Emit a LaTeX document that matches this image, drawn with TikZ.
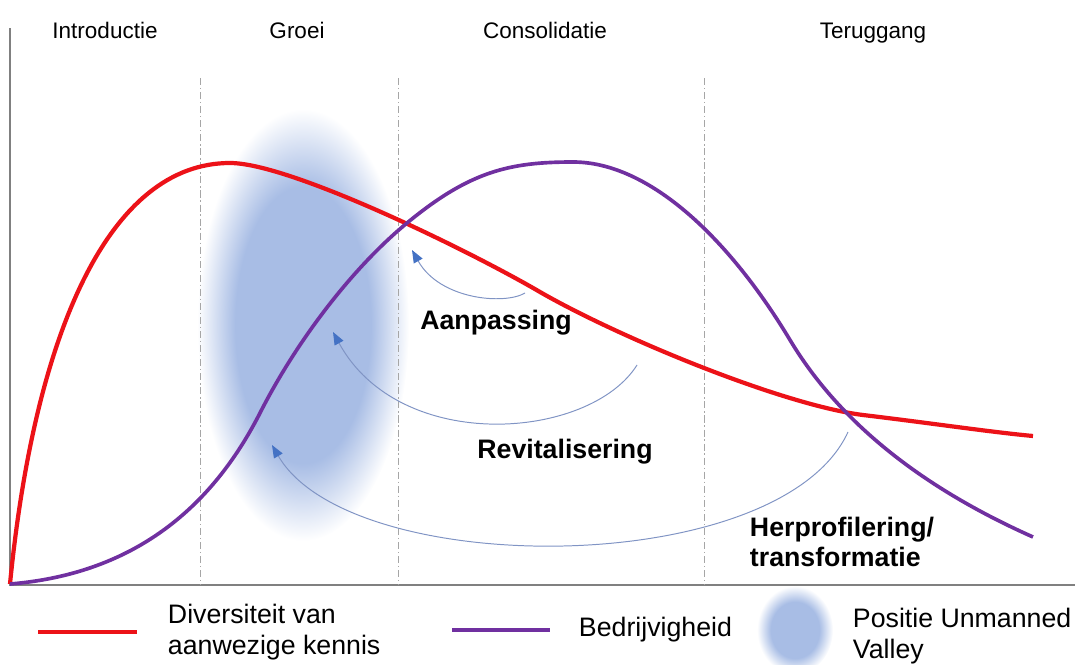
\documentclass[tikz,border=0pt]{standalone}
\usepackage{fontspec}
\setmainfont{Liberation Sans}
\usetikzlibrary{positioning}
\usetikzlibrary{arrows.meta}
\definecolor{kennisred}{RGB}{236,18,24}
\definecolor{bedrijfpurple}{RGB}{112,48,160}
\definecolor{valleyblue}{RGB}{168,189,229}
\definecolor{flowblue}{RGB}{128,148,196}
\definecolor{tipblue}{RGB}{68,114,196}
\pgfdeclareradialshading{valley}{\pgfpoint{0bp}{0bp}}{color(0bp)=(valleyblue); color(16bp)=(valleyblue); color(25bp)=(white); color(50bp)=(white)}

\begin{document}
\begin{tikzpicture}[x=0.025cm, y=-0.025cm,
    phase/.style={font=\fontsize{16}{18}\selectfont, anchor=base},
    stage/.style={font=\fontsize{19}{21}\selectfont\bfseries},
    legend/.style={font=\fontsize{19}{22}\selectfont, align=left},
    flow/.style={draw=flowblue, line width=0.7pt, -{Triangle[length=9pt, width=7pt, color=tipblue]}},
    divider/.style={gray!70, line width=0.5pt, dash pattern=on 5pt off 2pt on 1pt off 2pt}]
    \useasboundingbox (0,0) rectangle (1075,664);

    % unmanned valley
    \shade[shading=valley] (303,325) ellipse [x radius=2.65cm, y radius=5.4cm];

    % axes and phases
    \coordinate (top) at (10,28);
    \coordinate (origin) at (10,585);
    \coordinate (right) at (1075,585);
    \draw[gray, line width=1.2pt] (top) -- (origin) -- (right);
    \foreach \x in {200,398,704}
        \draw[divider] (\x,78) -- (\x,585);
    \node[phase] (intro) at (105,38) {Introductie};
    \node[phase] (groei) at (297,38) {Groei};
    \node[phase] (consol) at (545,38) {Consolidatie};
    \node[phase] (terug) at (873,38) {Teruggang};

    % curves
    \draw[kennisred, line width=3pt] (10,584) .. controls (35,330) and (110,163) .. (230,163)
        .. controls (290,163) and (470,251) .. (540,292)
        .. controls (620,338) and (783,405) .. (863,415)
        .. controls (930,423) and (990,432) .. (1033,436);
    \draw[bedrijfpurple, line width=2.6pt] (10,584) .. controls (120,575) and (205,521) .. (260,413)
        .. controls (295,344) and (350,270) .. (407,223)
        .. controls (470,171) and (510,162) .. (573,162)
        .. controls (650,162) and (730,240) .. (790,340)
        .. controls (850,440) and (950,500) .. (1033,537);

    % renewal arrows
    \coordinate (aan1) at (525,293);
    \coordinate (aan2) at (412,250);
    \coordinate (rev1) at (637,365);
    \coordinate (rev2) at (333,332);
    \coordinate (her1) at (848,432);
    \coordinate (her2) at (272,445);
    \draw[flow] (aan1) .. controls (505,305) and (440,300) .. (aan2);
    \draw[flow] (rev1) .. controls (590,440) and (400,455) .. (rev2);
    \draw[flow] (her1) .. controls (780,580) and (350,580) .. (her2);
    \node[stage] (aanpassing) at (496,323) {Aanpassing};
    \node[stage] (revital) at (565,452) {Revitalisering};
    \node[stage, anchor=west, align=left] (herpro) at (745,542) {Herprofilering/\\transformatie};

    % legend
    \coordinate (red1) at (38,632);
    \coordinate (red2) at (137,632);
    \coordinate (pur1) at (452,630);
    \coordinate (pur2) at (550,630);
    \draw[kennisred, line width=3.5pt] (red1) -- (red2);
    \draw[bedrijfpurple, line width=3.5pt] (pur1) -- (pur2);
    \shade[shading=valley] (795,630) ellipse [x radius=0.95cm, y radius=1.1cm];
    \node[legend, right=0.65cm of red2] (kennis) {Diversiteit van\\aanwezige kennis};
    \node[legend, right=0.6cm of pur2] (bedrijf) {Bedrijvigheid};
    \node[legend, anchor=west] (valley) at (848,636) {Positie Unmanned\\Valley};
\end{tikzpicture}
\end{document}
